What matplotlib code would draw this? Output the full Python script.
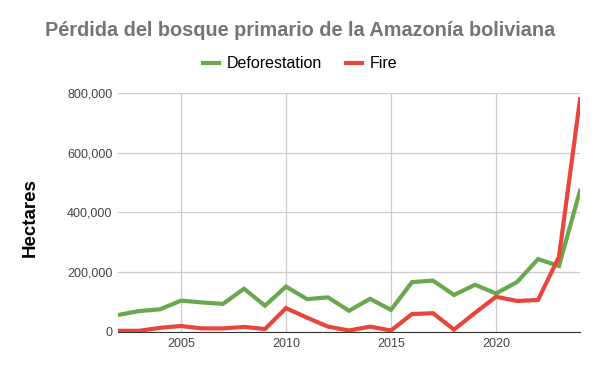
import matplotlib
matplotlib.use('Agg')
import matplotlib.pyplot as plt
from matplotlib.ticker import FuncFormatter

plt.rcParams['font.family'] = ['Liberation Sans', 'DejaVu Sans']

years = list(range(2002, 2025))
deforestation = [57000, 70000, 76000, 105000, 99000, 94000, 145000, 88000, 152000, 110000, 116000,
                 71000, 111000, 74000, 167000, 172000, 124000, 158000, 129000, 167000, 244000, 221000, 473000]
fire = [4000, 4000, 14000, 20000, 12000, 12000, 17000, 10000, 80000, 48000, 18000,
        5000, 18000, 5000, 60000, 63000, 8000, 64000, 118000, 104000, 107000, 252000, 779000]

fig = plt.figure(figsize=(6, 3.71), dpi=100)
ax = fig.add_axes([118/600, 1-332/371, (580-118)/600, (332-93)/371])

ax.plot(years, deforestation, color='#6aa84f', lw=3, label='Deforestation', solid_joinstyle='miter')
ax.plot(years, fire, color='#e8453c', lw=3, label='Fire', solid_joinstyle='miter')

ax.set_xlim(2002, 2024)
ax.set_ylim(0, 800000)
ax.set_xticks([2005, 2010, 2015, 2020])
ax.set_yticks([0, 200000, 400000, 600000, 800000])
ax.yaxis.set_major_formatter(FuncFormatter(lambda v, p: f'{int(v):,}'))
ax.grid(True, color='#cccccc', lw=0.9)
ax.set_axisbelow(True)
for s in ['top', 'right', 'left']:
    ax.spines[s].set_visible(False)
ax.spines['bottom'].set_color('#333333')
ax.tick_params(length=0, labelsize=9, colors='#444444', pad=4)

fig.text(30/600, 1-218/371, 'Hectares', rotation=90, ha='center', va='center',
         fontsize=13.5, fontweight='bold', color='black')
fig.text(0.5, 1-31/371, 'Pérdida del bosque primario de la Amazonía boliviana', ha='center', va='center',
         fontsize=14.3, fontweight='bold', color='#757575')
fig.legend(loc='center', bbox_to_anchor=(0.5, 1-64/371), ncol=2, frameon=False, fontsize=11.5,
           handlelength=1.0, handletextpad=0.5, columnspacing=1.5)

plt.savefig('out.png', dpi=100)
